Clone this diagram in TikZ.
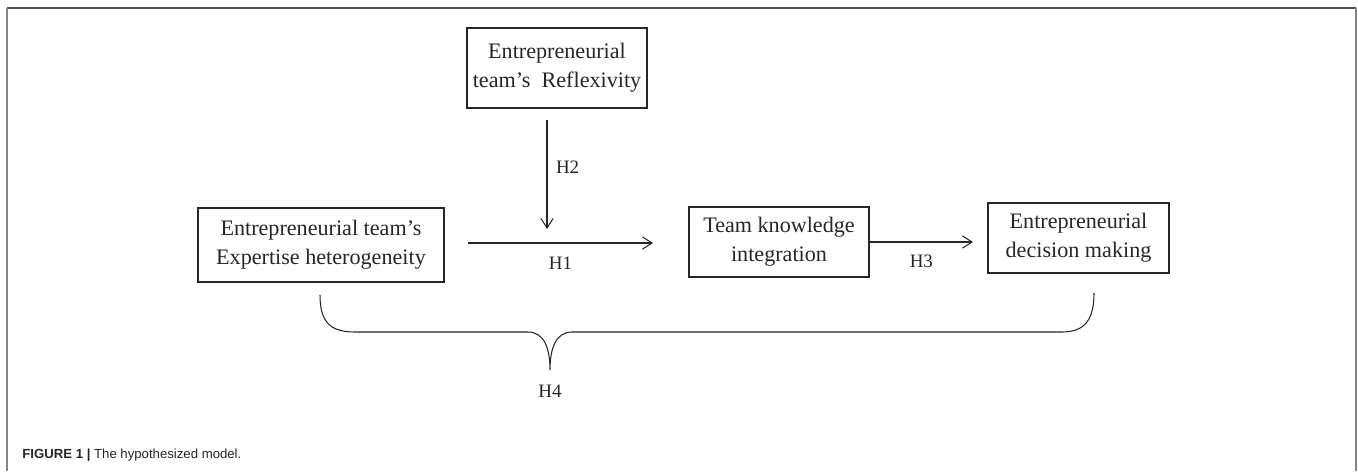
\documentclass[tikz,border=0pt]{standalone}
\usepackage{fontspec}
\setmainfont{Liberation Serif}
\setsansfont{Liberation Sans}
\usepackage{tikz}
\usetikzlibrary{arrows.meta}

\definecolor{framedark}{HTML}{4D4D4D}
\definecolor{frameside}{HTML}{858585}
\definecolor{ink}{HTML}{262626}

\begin{document}
\begin{tikzpicture}[x=0.02cm, y=-0.02cm, >={Straight Barb[length=5.5pt, width=7pt]},
    box/.style={draw=ink, line width=0.8pt, align=center, inner sep=0pt,
                text=ink, font=\fontsize{12.6}{16.5}\selectfont},
    hlab/.style={text=ink, font=\fontsize{10.8}{12}\selectfont},
    link/.style={draw=ink, line width=0.6pt}]
  \useasboundingbox (0, 0) rectangle (1358, 471);

  \draw[framedark, line width=1.2pt] (7, 8) -- (1356, 8);
  \draw[frameside, line width=1.2pt] (7, 8) -- (7, 471);
  \draw[frameside, line width=1.2pt] (1356, 8) -- (1356, 471);

  \node[box, minimum width=3.6cm, minimum height=1.6cm] (refl) at (557, 68)
        {Entrepreneurial\\team’s\ \ Reflexivity};
  \node[box, minimum width=4.92cm, minimum height=1.48cm] (exp) at (321, 245)
        {Entrepreneurial team’s\\Expertise heterogeneity};
  \node[box, minimum width=3.6cm, minimum height=1.4cm] (know) at (779, 242)
        {Team knowledge\\integration};
  \node[box, minimum width=3.62cm, minimum height=1.4cm] (dec) at (1078.5, 238)
        {Entrepreneurial\\decision making};

  \coordinate (h1s) at (468, 243);
  \coordinate (h1e) at (653, 243);
  \coordinate (h2s) at (547, 120);
  \coordinate (h2e) at (547, 229);
  \coordinate (h3e) at (973, 242);
  \coordinate (brl) at (320, 295);
  \coordinate (brr) at (1094, 293);
  \coordinate (tip) at (550, 370);

  \draw[link, ->] (h1s) -- (h1e) node[midway, below=4.5pt, hlab] (h1) {H1};
  \draw[link, ->] (h2s) -- (h2e) node[pos=0.43, right=1.5pt, hlab] (h2) {H2};
  \draw[link, ->] (know.east) -- (h3e) node[midway, below=3.8pt, hlab] (h3) {H3};

  \draw[link] (brl) .. controls (320, 322) and (330, 332) .. (355, 332)
        -- (528, 332) .. controls (544, 332) and (550, 348) .. (tip)
        .. controls (550, 348) and (556, 332) .. (572, 332)
        -- (1062, 332) .. controls (1086, 332) and (1094, 318) .. (brr);
  \node[below=5.2pt, hlab] (h4) at (tip) {H4};

  \node[anchor=base west, inner sep=0pt, text=ink,
        font=\sffamily\fontsize{7.5}{9}\selectfont] (cap) at (22, 458)
        {\textbf{FIGURE 1 |} The hypothesized model.};
\end{tikzpicture}
\end{document}
